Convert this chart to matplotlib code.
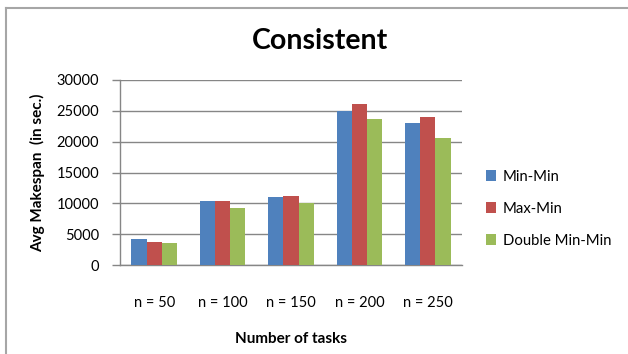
import matplotlib
matplotlib.use("Agg")
import matplotlib.pyplot as plt
import numpy as np
from matplotlib.lines import Line2D

categories = ["n = 50", "n = 100", "n = 150", "n = 200", "n = 250"]
series_names = ["Min-Min", "Max-Min", "Double Min-Min"]
min_min = [4200, 10400, 11000, 25000, 23000]
max_min = [3800, 10400, 11200, 26100, 24000]
double_min_min = [3600, 9200, 10100, 23600, 20500]
y_ticks = [0, 5000, 10000, 15000, 20000, 25000, 30000]

colors = ["#4F81BD", "#C0504D", "#9BBB59"]
plt.rcParams['font.family'] = ['Lato', 'DejaVu Sans']

fig = plt.figure(figsize=(6.28, 3.54), dpi=100)
ax = fig.add_axes([120/628, 1-265.3/354, (462-120)/628, (265.3-79.7)/354])

x = np.arange(len(categories))
w = 1/4.5
all_series = [min_min, max_min, double_min_min]
for i, (vals, name, c) in enumerate(zip(all_series, series_names, colors)):
    ax.bar(x + (i-1)*w, vals, width=w, color=c, label=name, zorder=3)

ax.set_xlim(-0.5, len(categories)-0.5)
ax.set_ylim(0, 30000)
ax.set_yticks(y_ticks)
ax.set_yticklabels([str(t) for t in y_ticks], fontsize=10.5)
ax.set_xticks(x)
ax.set_xticklabels(categories, fontsize=10.5)
ax.tick_params(axis='x', length=0, pad=22)
ax.tick_params(axis='y', length=6, color="#868686", width=1, pad=9)
ax.yaxis.grid(True, color="#868686", linewidth=1, zorder=0)
for s in ["top", "right"]:
    ax.spines[s].set_visible(False)
for s in ["left", "bottom"]:
    ax.spines[s].set_color("#868686")
    ax.spines[s].set_linewidth(1)

ax.set_ylabel("Avg Makespan  (in sec.)", fontsize=11, fontweight="bold", labelpad=8)
ax.set_xlabel("Number of tasks", fontsize=11, fontweight="bold", labelpad=16)

fig.text(320/628, 1-41/354, "Consistent", ha="center", va="center",
         fontsize=20.5, fontweight="bold")

leg = ax.legend(loc="center left", bbox_to_anchor=((486-120)/342, 0.305), frameon=False,
                fontsize=10.7, handlelength=0.7, handleheight=0.7,
                labelspacing=1.2, handletextpad=0.45, borderaxespad=0, borderpad=0)

# chart area border (top and left only)
fig.add_artist(Line2D([5.5/628, 1], [1-7.5/354, 1-7.5/354], color="#A6A6A6", lw=1.5, transform=fig.transFigure))
fig.add_artist(Line2D([5.5/628, 5.5/628], [0, 1-7.5/354], color="#A6A6A6", lw=1.5, transform=fig.transFigure))

fig.savefig("out.png", dpi=100)
